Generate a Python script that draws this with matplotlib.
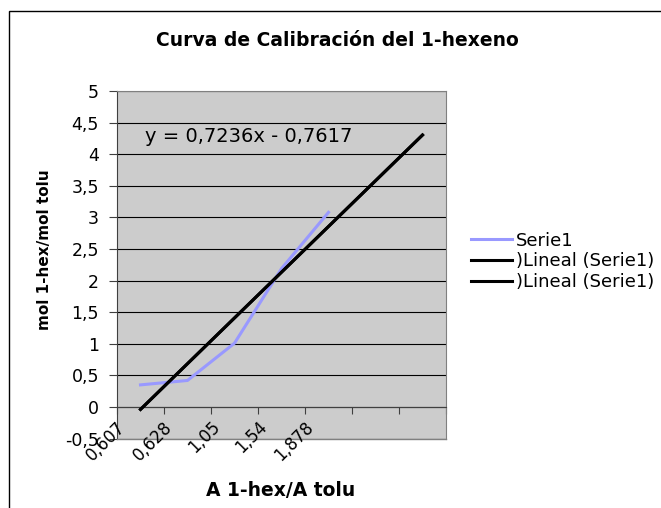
import matplotlib.pyplot as plt
from matplotlib.patches import Rectangle
from matplotlib.transforms import ScaledTranslation
import numpy as np

# calibration data (categories are the absorbance ratios)
categorias = ['0,607', '0,628', '1,05', '1,54', '1,878']
serie1 = [0.35, 0.42, 1.01, 2.19, 3.08]

# linear trend given by the equation on the chart, forecast 2 periods ahead
pendiente = 0.7236
ordenada = -0.7617
n_adelante = 2

yticks = np.arange(-0.5, 5.01, 0.5)

fig = plt.figure(figsize=(6.61, 5.08), dpi=100)
W, H = 661, 508

# outer chart border
fig.patches.append(Rectangle((8.5 / W, -0.2), 2, 1.2 - 10.5 / H, transform=fig.transFigure,
                             fill=False, lw=1, ec='black'))

ax = fig.add_axes([117 / W, 1 - 438.6 / H, (446 - 117) / W, (438.6 - 91) / H])
ax.set_facecolor('#cccccc')

x = np.arange(1, len(serie1) + 1)
xt = np.arange(1, len(serie1) + n_adelante + 1)
yt = pendiente * xt + ordenada

ax.plot(x, serie1, color='#9999ff', lw=2.2, label='Serie1', zorder=3)
ax.plot(xt, yt, color='black', lw=2.2, label=')Lineal (Serie1)', zorder=4)
ax.plot(xt, yt, color='black', lw=2.2, label=')Lineal (Serie1)', zorder=4)

ncat = len(xt)
ax.set_xlim(0.5, ncat + 0.5)
ax.set_ylim(-0.5, 5)

# y axis
ax.set_yticks(yticks)
ax.set_yticklabels([f'{v:g}'.replace('.', ',') for v in yticks], fontsize=12.5)
ax.yaxis.grid(True, color='black', lw=0.8)
ax.tick_params(axis='y', direction='out', length=6, width=0.8, color='#404040', pad=7)

# x axis crosses at zero, ticks between categories
ax.spines['bottom'].set_position(('data', 0))
ax.spines['bottom'].set_color('#404040')
ax.spines['left'].set_color('#404040')
for s in ('top', 'right'):
    ax.spines[s].set_color('#808080')
ax.axhline(-0.5, color='#808080', lw=1, clip_on=False, zorder=2.6)
ax.set_xticks(np.arange(0.5, ncat + 1, 1))
ax.set_xticklabels([])
ax.tick_params(axis='x', direction='out', length=5, width=0.8, color='#404040')

off = ScaledTranslation(-0.24, -0.11, fig.dpi_scale_trans)
for i, lab in enumerate(categorias):
    ax.text(i + 1, 0, lab, rotation=45, ha='right', va='top', rotation_mode='anchor',
            fontsize=12, transform=ax.transData + off, clip_on=False)

ax.text(0.085, 0.852, 'y = 0,7236x - 0,7617', transform=ax.transAxes,
        ha='left', va='baseline', fontsize=14)

fig.text(337.5 / W, 1 - 45.7 / H, 'Curva de Calibración del 1-hexeno',
         ha='center', va='baseline', fontsize=13.5, fontweight='bold')
fig.text(280.5 / W, 1 - 491 / H, 'A 1-hex/A tolu', ha='center', va='center',
         fontsize=13.5, fontweight='bold')
fig.text(45 / W, 1 - 249.5 / H, 'mol 1-hex/mol tolu', ha='center', va='center',
         rotation=90, fontsize=11, fontweight='bold')

fig.legend(loc='center left', bbox_to_anchor=(471 / W, 1 - 261.5 / H), frameon=False,
           fontsize=13, handlelength=2.25, handletextpad=0.25, labelspacing=0.15,
           borderpad=0, borderaxespad=0)

fig.savefig('out.png', dpi=100)
